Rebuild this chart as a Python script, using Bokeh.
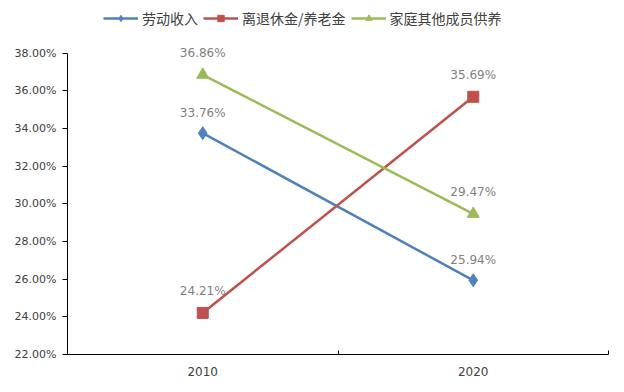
from bokeh.plotting import figure
from bokeh.layouts import column
from bokeh.core.properties import value
from bokeh.models import (ColumnDataSource, FixedTicker, NumeralTickFormatter,
                          Range1d, Legend, LegendItem, LabelSet)
from bokeh.embed import file_html
from bokeh.resources import INLINE

years = ["2010", "2020"]
x_pos = [0.5, 1.5]
labor = [0.3376, 0.2594]
pension = [0.2421, 0.3569]
family = [0.3686, 0.2947]
series_names = ["劳动收入", "离退休金/养老金", "家庭其他成员供养"]
y_ticks = [0.22, 0.24, 0.26, 0.28, 0.30, 0.32, 0.34, 0.36, 0.38]

colors = ["#4F81BD", "#C0504D", "#9BBB59"]
markers = ["diamond", "square", "triangle"]
sizes = [13, 11, 12]
label_offsets = [13, 15, 15]

W = 616
LEG_H = 30
LEFT = 67

# y range extends a little above 38% so the top data label is not clipped;
# the axis line itself is bounded to 22%..38%
p = figure(width=W, height=384 - LEG_H, output_backend="svg", toolbar_location=None,
           x_range=Range1d(0, 2), y_range=Range1d(0.22, 0.39),
           min_border_left=LEFT, min_border_right=8, min_border_bottom=30,
           min_border_top=4)
p.outline_line_color = None
p.grid.grid_line_color = None
p.background_fill_color = "white"

# legend-only figure on top
lf = figure(width=W, height=LEG_H, output_backend="svg", toolbar_location=None,
            x_range=Range1d(0, 1), y_range=Range1d(0, 1),
            x_axis_location=None, y_axis_location=None, min_border=0)
lf.grid.grid_line_color = None
lf.outline_line_color = None

items = []
for vals, name, c, m, s, off in zip([labor, pension, family], series_names, colors,
                                     markers, sizes, label_offsets):
    src = ColumnDataSource(dict(x=x_pos, y=vals,
                                lab=["%.2f%%" % (v * 100) for v in vals]))
    p.line("x", "y", source=src, line_color=c, line_width=2.5)
    p.scatter("x", "y", source=src, marker=m, size=s, fill_color=c, line_color=c)
    labels = LabelSet(x="x", y="y", text="lab", source=src, x_offset=0, y_offset=off,
                      text_align="center", text_baseline="bottom",
                      text_font=value("DejaVu Sans"), text_font_size="12px",
                      text_color="#7F7F7F")
    p.add_layout(labels)
    # legend proxies placed outside the visible range of the legend figure
    proxy = ColumnDataSource(dict(x=[-10, -9], y=[-10, -10]))
    l1 = lf.line("x", "y", source=proxy, line_color=c, line_width=2.5)
    l2 = lf.scatter("x", "y", source=proxy, marker=m, size=s - 1, fill_color=c, line_color=c)
    items.append(LegendItem(label=name, renderers=[l1, l2]))

legend = Legend(items=items, orientation="horizontal", location=(103 - LEFT, 2),
                label_text_font="Noto Sans CJK SC", label_text_font_size="14px",
                label_text_color="#404040", glyph_width=35, glyph_height=16,
                spacing=5, label_standoff=4, border_line_color=None,
                padding=0, margin=0, background_fill_alpha=0)
lf.add_layout(legend)

# x axis
p.xaxis.ticker = FixedTicker(ticks=x_pos, minor_ticks=[0, 1, 2])
p.xaxis.major_label_overrides = {x_pos[i]: years[i] for i in range(2)}
p.xaxis.major_tick_line_color = None
p.xaxis.minor_tick_in = 4
p.xaxis.minor_tick_out = 0
p.xaxis.minor_tick_line_color = "black"
p.xaxis.axis_line_color = "black"
p.xaxis.major_label_text_font = "DejaVu Sans"
p.xaxis.major_label_text_font_size = "12px"
p.xaxis.major_label_text_color = "#404040"
p.xaxis.major_label_standoff = 6

# y axis
p.yaxis.ticker = FixedTicker(ticks=y_ticks, minor_ticks=[])
p.yaxis.bounds = (y_ticks[0], y_ticks[-1])
p.yaxis.formatter = NumeralTickFormatter(format="0.00%")
p.yaxis.major_tick_in = 0
p.yaxis.major_tick_out = 5
p.yaxis.major_tick_line_color = "black"
p.yaxis.axis_line_color = "black"
p.yaxis.major_label_text_font = "DejaVu Sans"
p.yaxis.major_label_text_font_size = "11px"
p.yaxis.major_label_text_color = "#404040"
p.yaxis.major_label_standoff = 6

layout = column(lf, p, spacing=0)
open("out.html", "w").write(file_html(layout, INLINE))
